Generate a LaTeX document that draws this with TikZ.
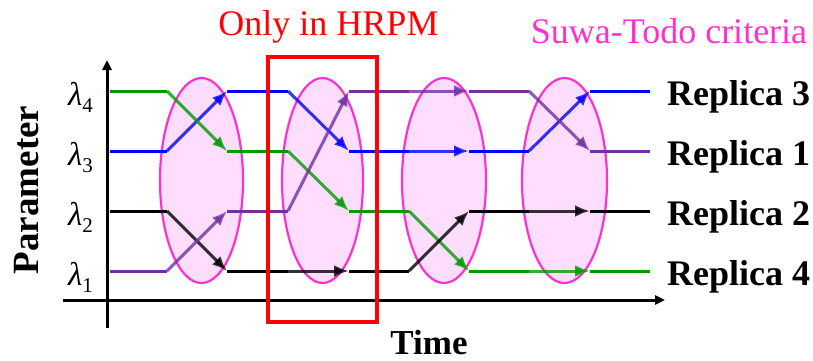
\documentclass[tikz,border=0pt]{standalone}
\usepackage{fontspec}
\setmainfont{Liberation Serif}
\usetikzlibrary{arrows.meta}

\definecolor{repblue}{HTML}{0000FF}
\definecolor{repgreen}{HTML}{009900}
\definecolor{reppurple}{HTML}{7030A0}
\definecolor{repblack}{HTML}{000000}
\definecolor{swapfill}{HTML}{FFDDFF}
\definecolor{swapedge}{HTML}{FF33CC}
\definecolor{hrpmred}{HTML}{FF0000}

\begin{document}
\begin{tikzpicture}[x=1pt,y=-1pt,
  track/.style={line width=3pt},
  hop/.style={line width=3pt, opacity=0.8, -{Latex[length=15pt,width=12pt]}},
  window/.style={draw=swapedge, fill=swapfill, line width=2.2pt},
  axisline/.style={line width=3pt, -{Triangle[length=10pt,width=9pt]}},
  label/.style={inner sep=0pt},
  replica/.style={label, font=\fontsize{36}{36}\selectfont\bfseries, anchor=base west},
  levellabel/.style={label, font=\fontsize{33}{33}\selectfont, anchor=base east},
]
\useasboundingbox (0,0) rectangle (813,360);

% grid of switching points: columns 0..9, parameter levels 1..4
\foreach \c/\x in {0/110,1/167,2/227,3/288,4/349,5/409,6/469,7/529,8/590,9/650}
  \foreach \l/\y in {1/271,2/211,3/151,4/91}
    \coordinate (g\c-\l) at (\x,\y);

% exchange windows
\draw[window] (201.5,180.5) ellipse [x radius=41.5pt, y radius=102.5pt];
\draw[window] (322.5,180.5) ellipse [x radius=40.5pt, y radius=102.5pt];
\draw[window] (444,180.5)   ellipse [x radius=42pt,   y radius=102.5pt];
\draw[window] (564.5,180.5) ellipse [x radius=42.5pt, y radius=102.5pt];

% axes
\coordinate (xstart) at (63,300);
\coordinate (xend)   at (665,300);
\coordinate (ystart) at (107,328);
\coordinate (yend)   at (107,60);
\draw[axisline] (xstart) -- (xend);
\draw[axisline] (ystart) -- (yend);

% replica trajectories: colour / level after each exchange step
\foreach \col/\a/\b/\c/\d/\e in {repblue/3/4/3/3/4, repgreen/4/3/2/1/1, repblack/2/1/1/2/2, reppurple/1/2/4/4/3} {
  \draw[track,\col] (g0-\a) -- (g1-\a) (g2-\b) -- (g3-\b) (g4-\c) -- (g5-\c)
                    (g6-\d) -- (g7-\d) (g8-\e) -- (g9-\e);
  \draw[hop,\col] (g1-\a) -- (g2-\b);
  \draw[hop,\col] (g3-\b) -- (g4-\c);
  \draw[hop,\col] (g5-\c) -- (g6-\d);
  \draw[hop,\col] (g7-\d) -- (g8-\e);
}

% step available only in HRPM
\draw[hrpmred, line width=3.5pt] (268,57) rectangle (377,322);

% parameter levels
\node[levellabel] (lam4) at (93,105.5) {\textit{λ}\raisebox{-7pt}{\fontsize{21}{21}\selectfont 4}};
\node[levellabel] (lam3) at (93,165.5) {\textit{λ}\raisebox{-7pt}{\fontsize{21}{21}\selectfont 3}};
\node[levellabel] (lam2) at (93,225.5) {\textit{λ}\raisebox{-7pt}{\fontsize{21}{21}\selectfont 2}};
\node[levellabel] (lam1) at (93,285.5) {\textit{λ}\raisebox{-7pt}{\fontsize{21}{21}\selectfont 1}};

% final replica labels
\node[replica] (rep3) at (667,105.5) {Replica 3};
\node[replica] (rep1) at (667,165.5) {Replica 1};
\node[replica] (rep2) at (667,225.5) {Replica 2};
\node[replica] (rep4) at (667,285.5) {Replica 4};

% titles and axis names
\node[label, font=\fontsize{36}{36}\selectfont, text=hrpmred, anchor=base] (hrpm) at (328.5,35) {Only in HRPM};
\node[label, font=\fontsize{36}{36}\selectfont, text=swapedge, anchor=base] (suwa) at (669,43) {Suwa-Todo criteria};
\node[label, font=\fontsize{35}{35}\selectfont\bfseries, anchor=base] (time) at (429,354) {Time};
\node[label, font=\fontsize{37}{37}\selectfont\bfseries, rotate=90, anchor=base] (param) at (38,190) {Parameter};
\end{tikzpicture}
\end{document}
